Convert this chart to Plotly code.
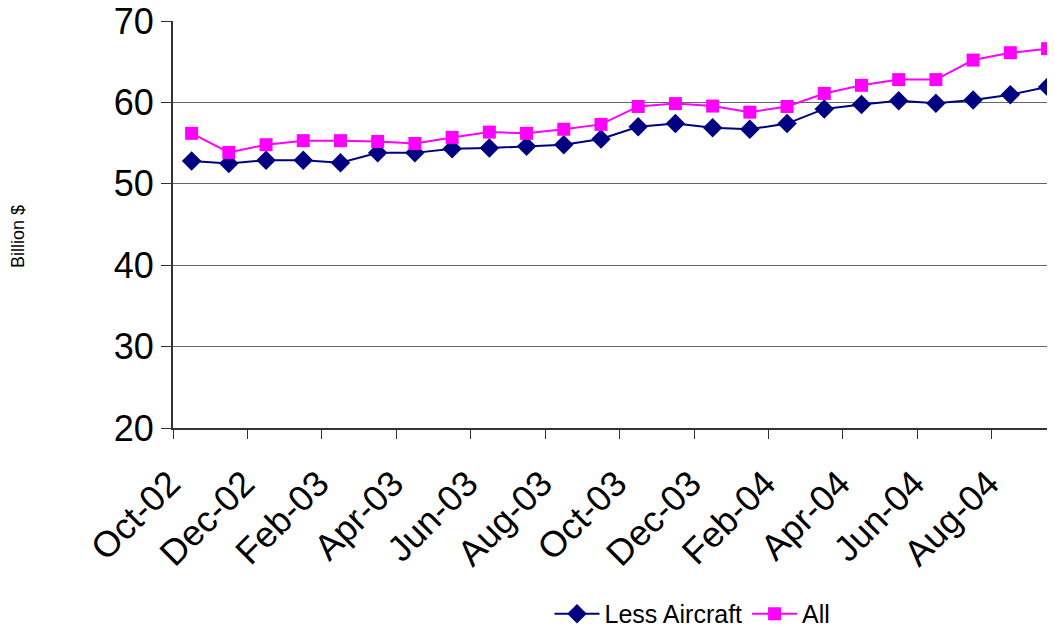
import plotly.graph_objects as go

months = ["Oct-02", "Nov-02", "Dec-02", "Jan-03", "Feb-03", "Mar-03", "Apr-03", "May-03",
          "Jun-03", "Jul-03", "Aug-03", "Sep-03", "Oct-03", "Nov-03", "Dec-03", "Jan-04",
          "Feb-04", "Mar-04", "Apr-04", "May-04", "Jun-04", "Jul-04", "Aug-04", "Sep-04"]
less_aircraft = [52.8, 52.5, 52.9, 52.9, 52.6, 53.8, 53.8, 54.3, 54.4, 54.6, 54.8, 55.5,
                 57.0, 57.4, 56.9, 56.7, 57.4, 59.2, 59.75, 60.2, 59.9, 60.3, 60.95, 61.9]
all_goods = [56.2, 53.85, 54.8, 55.3, 55.3, 55.2, 54.95, 55.7, 56.35, 56.2, 56.7, 57.3,
             59.5, 59.85, 59.55, 58.8, 59.5, 61.1, 62.1, 62.8, 62.8, 65.2, 66.1, 66.6]
y_ticks = [20, 30, 40, 50, 60, 70]

font_family = "Liberation Sans, Arial, sans-serif"

fig = go.Figure()
fig.add_trace(go.Scatter(
    x=months, y=less_aircraft, name="Less Aircraft", mode="lines+markers",
    line=dict(color="#000080", width=2),
    marker=dict(symbol="diamond", size=15, color="#000080"),
    cliponaxis=False,
))
fig.add_trace(go.Scatter(
    x=months, y=all_goods, name="All", mode="lines+markers",
    line=dict(color="#FF00FF", width=2),
    marker=dict(symbol="square", size=13, color="#FF00FF"),
    cliponaxis=False,
))

fig.update_layout(
    width=1047, height=620,
    margin=dict(l=165, r=0, t=13, b=200, autoexpand=False),
    paper_bgcolor="white", plot_bgcolor="white",
    font=dict(family=font_family, color="black"),
    showlegend=True,
    legend=dict(orientation="h", x=0.589, xanchor="center", y=-0.457, yanchor="middle",
                font=dict(size=25), itemwidth=45, tracegroupgap=0),
    annotations=[dict(text="Billion $", xref="paper", yref="paper", x=-0.1765, y=0.47,
                      textangle=-90, showarrow=False, font=dict(size=18),
                      xanchor="center", yanchor="middle")],
)
fig.update_xaxes(
    type="category", categoryorder="array", categoryarray=months,
    range=[-0.5, 23.2], tickmode="linear", tick0=0, dtick=2,
    tickson="boundaries", ticks="outside", ticklen=9, tickcolor="#333333",
    tickangle=-45, tickfont=dict(size=36), ticklabelstandoff=18, ticklabelshift=-22,
    automargin=False, ticklabeloverflow="allow",
    showgrid=False, showline=True, linecolor="#333333", linewidth=2, zeroline=False,
)
fig.update_yaxes(
    range=[20, 70], tickvals=y_ticks, ticks="outside", ticklen=10, tickcolor="#333333",
    tickfont=dict(size=36), showgrid=True, gridcolor="#666666", gridwidth=1,
    automargin=False, ticklabeloverflow="allow",
    showline=True, linecolor="#333333", linewidth=2, zeroline=False,
)

fig.write_html("out.html")
